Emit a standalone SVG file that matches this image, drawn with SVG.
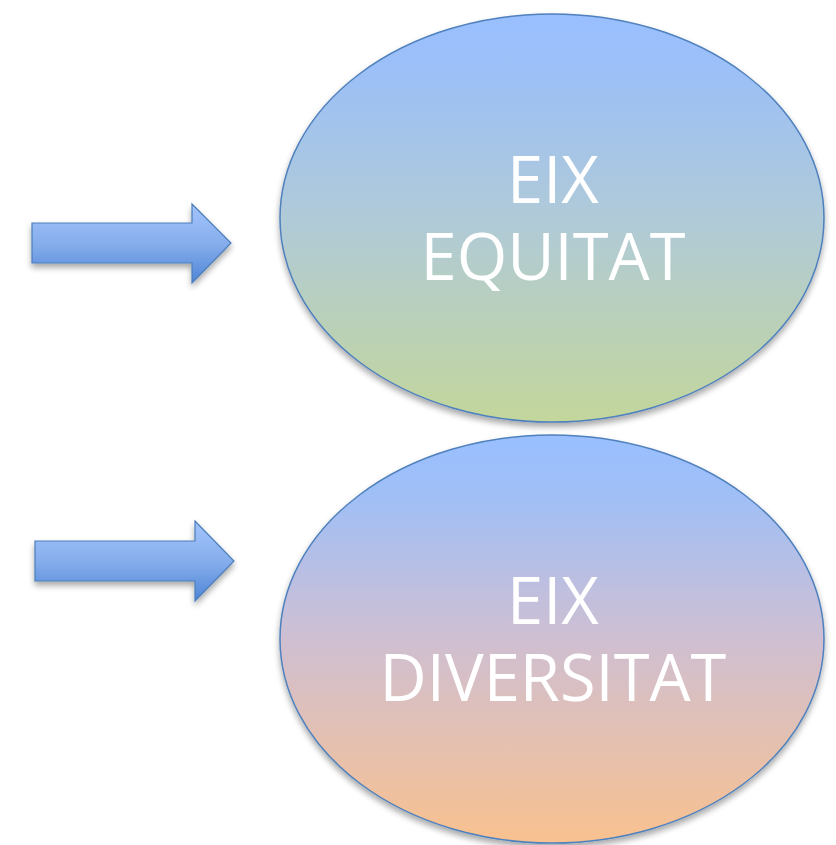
<svg xmlns="http://www.w3.org/2000/svg" width="836" height="845" viewBox="0 0 836 845">
<defs>
<linearGradient id="g1" x1="0" y1="0" x2="0" y2="1">
<stop offset="0" stop-color="#99bfff"/><stop offset="0.15" stop-color="#9cc0f6"/><stop offset="0.5" stop-color="#b0cad8"/><stop offset="1" stop-color="#c3d69b"/>
</linearGradient>
<linearGradient id="g2" x1="0" y1="0" x2="0" y2="1">
<stop offset="0" stop-color="#99bfff"/><stop offset="0.15" stop-color="#a0bff6"/><stop offset="0.5" stop-color="#cfbfd2"/><stop offset="1" stop-color="#f9c18f"/>
</linearGradient>
<linearGradient id="ga" x1="0" y1="0" x2="0" y2="1">
<stop offset="0" stop-color="#a3c4fc"/><stop offset="0.5" stop-color="#86aeec"/><stop offset="1" stop-color="#4f85d6"/>
</linearGradient>
<filter id="sh" x="-10%" y="-10%" width="120%" height="125%">
<feGaussianBlur in="SourceAlpha" stdDeviation="3"/>
<feOffset dx="0" dy="4" result="b"/>
<feComponentTransfer><feFuncA type="linear" slope="0.35"/></feComponentTransfer>
<feMerge><feMergeNode/><feMergeNode in="SourceGraphic"/></feMerge>
</filter>
<style>
.ell{stroke:#4f81bd;stroke-width:1.5}
.arr{fill:url(#ga);stroke:#4a7ebb;stroke-width:1.2}
.t{font-family:"Open Sans","Noto Sans",sans-serif;font-size:65px;fill:#ffffff;text-anchor:middle}
</style>
</defs>
<rect width="836" height="845" fill="#ffffff"/>
<g id="connectors">
<path class="arr" filter="url(#sh)" d="M32,223 H192 V204 L231,243 L192,283 V263 H32 Z"/>
<path class="arr" filter="url(#sh)" d="M35,541 H195 V521 L234,561 L195,601 V581 H35 Z"/>
</g>
<g id="node-equitat">
<ellipse class="ell" filter="url(#sh)" cx="552" cy="218" rx="272" ry="204" fill="url(#g1)"/>
<text class="t" x="553" y="203">EIX</text>
<text class="t" x="553" y="280">EQUITAT</text>
</g>
<g id="node-diversitat">
<ellipse class="ell" filter="url(#sh)" cx="552" cy="639" rx="272" ry="204" fill="url(#g2)"/>
<text class="t" x="553" y="624">EIX</text>
<text class="t" x="553" y="701">DIVERSITAT</text>
</g>
</svg>
